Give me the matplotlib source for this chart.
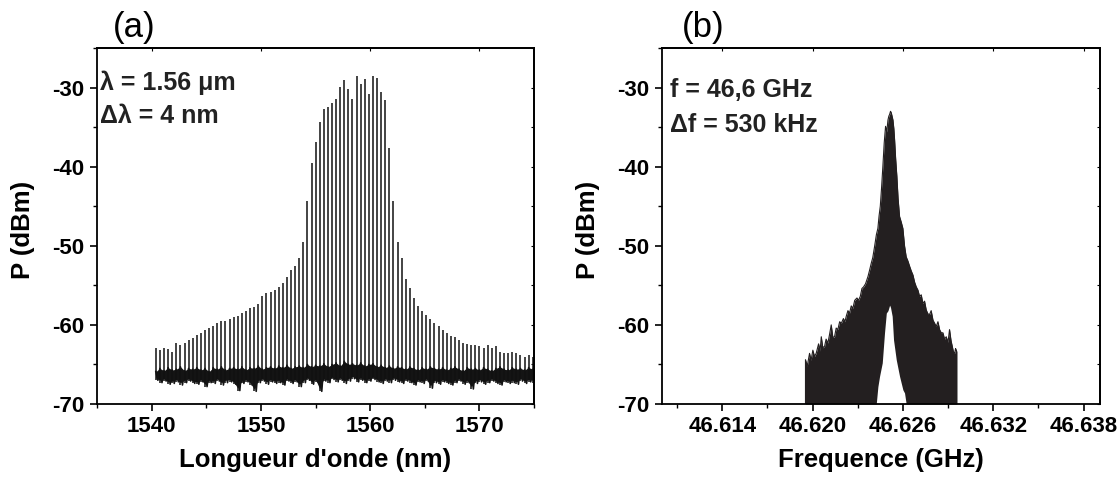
# Two-panel spectrum figure: (a) optical comb, (b) RF beat note
import numpy as np
import matplotlib
matplotlib.use('Agg')
import matplotlib.pyplot as plt
from matplotlib.ticker import MultipleLocator, FormatStrFormatter

plt.rcParams['font.family'] = ['Liberation Sans', 'DejaVu Sans']
plt.rcParams['font.weight'] = 'bold'
plt.rcParams['axes.unicode_minus'] = False

# --- panel (a): optical comb, 93 lines ---
comb_start = 1540.385   # nm, first mode
comb_step = 0.375       # nm, mode spacing

comb_peak = [
    -62.9, -63.2, -62.9, -63.1, -63.4, -62.3, -62.5, -62.3, -61.9, -61.7,
    -61.3, -61.0, -60.6, -60.4, -60.1, -59.8, -59.5, -59.5, -59.3, -59.0,
    -58.9, -58.5, -58.3, -57.9, -57.7, -57.3, -56.4, -56.0, -55.8, -55.6,
    -55.2, -54.7, -53.9, -53.0, -52.6, -51.5, -49.5, -44.3, -39.6, -36.9,
    -34.3, -32.7, -32.4, -31.9, -31.4, -29.9, -29.1, -30.2, -31.4, -28.6,
    -29.5, -28.9, -30.8, -28.6, -28.8, -30.5, -31.6, -37.6, -44.4, -49.5,
    -51.5, -54.2, -55.4, -56.6, -57.6, -58.2, -58.7, -59.2, -59.7, -60.1,
    -60.6, -61.0, -61.4, -61.5, -61.9, -62.3, -62.4, -62.5, -62.6, -62.7,
    -62.9, -62.6, -62.9, -62.7, -63.4, -63.6, -63.5, -63.4, -63.6, -63.8,
    -64.0, -63.8, -64.0,
]
# noise floor: upper value at each mode, lower value between modes
floor_hi = [
    -65.9, -65.5, -65.8, -65.4, -65.7, -65.6, -65.3, -65.8, -65.5, -65.6,
    -65.4, -65.7, -65.5, -65.9, -65.4, -65.6, -65.3, -65.7, -65.5, -65.4,
    -65.6, -65.3, -65.7, -65.4, -65.5, -65.2, -65.6, -65.4, -65.3, -65.5,
    -65.2, -65.4, -65.1, -65.5, -65.3, -65.2, -65.4, -65.0, -65.3, -65.1,
    -65.2, -64.9, -65.3, -65.0, -64.8, -65.2, -64.6, -65.0, -64.9, -65.1,
    -64.8, -65.2, -65.0, -64.9, -65.3, -65.1, -65.4, -65.2, -65.5, -65.3,
    -65.4, -65.6, -65.3, -65.5, -65.7, -65.4, -65.6, -65.3, -65.5, -65.6,
    -65.4, -65.7, -65.5, -65.3, -65.6, -65.8, -65.4, -65.6, -65.5, -65.7,
    -65.4, -65.6, -65.8, -65.5, -65.3, -65.6, -65.7, -65.4, -65.6, -65.5,
    -65.7, -65.4, -65.6,
]
floor_lo = [
    -67.0, -67.3, -67.1, -67.5, -67.4, -67.2, -67.6, -67.3, -67.1, -67.4,
    -67.5, -67.2, -67.8, -67.3, -67.4, -67.1, -67.6, -67.3, -67.2, -67.5,
    -68.3, -67.4, -67.2, -67.6, -68.4, -67.3, -67.1, -67.5, -67.2, -67.4,
    -67.3, -67.6, -67.1, -67.4, -67.2, -67.8, -67.3, -67.0, -67.5, -67.2,
    -68.4, -67.1, -67.3, -66.9, -67.2, -67.0, -67.4, -67.1, -66.8, -67.2,
    -67.0, -67.3, -67.1, -66.9, -67.2, -67.4, -67.1, -67.3, -67.0, -67.2,
    -67.4, -67.1, -67.3, -67.6, -67.2, -67.4, -67.1, -68.0, -67.3, -67.5,
    -67.2, -67.4, -67.6, -67.3, -67.1, -67.5, -67.3, -68.1, -67.4, -67.2,
    -67.5, -67.3, -67.1, -67.4, -67.6, -67.2, -67.4, -67.3, -67.5, -67.1,
    -67.4, -67.2, -67.3,
]

# --- panel (b): RF spectrum envelope (GHz, dBm) ---
rf_freq = [
    46.61953, 46.61953, 46.61965, 46.61980, 46.61990, 46.62002, 46.62013,
    46.62024, 46.62040, 46.62050, 46.62058, 46.62068, 46.62080, 46.62090,
    46.62102, 46.62113, 46.62124, 46.62135, 46.62146, 46.62157, 46.62168,
    46.62180, 46.62191, 46.62205, 46.62215, 46.62224, 46.62235, 46.62246,
    46.62257, 46.62268, 46.62280, 46.62295, 46.62305, 46.62317, 46.62328,
    46.62339, 46.62352, 46.62368, 46.62380, 46.62390, 46.62400, 46.62412,
    46.62424, 46.62434, 46.62442, 46.62450, 46.62458, 46.62467, 46.62476,
    46.62485, 46.62493, 46.62501, 46.62507, 46.62512, 46.62518, 46.62523,
    46.62528, 46.62534, 46.62540, 46.62545, 46.62552, 46.62560, 46.62568,
    46.62578, 46.62589, 46.62600, 46.62611, 46.62622, 46.62633, 46.62645,
    46.62656, 46.62667, 46.62678, 46.62689, 46.62700, 46.62711, 46.62722,
    46.62733, 46.62744, 46.62755, 46.62766, 46.62777, 46.62788, 46.62800,
    46.62811, 46.62822, 46.62833, 46.62844, 46.62855, 46.62866, 46.62877,
    46.62888, 46.62900, 46.62910, 46.62920, 46.62928, 46.62936, 46.62944,
    46.62950, 46.62955, 46.62958, 46.62958,
]
rf_power = [
    -70.0, -64.4, -65.2, -63.6, -64.5, -63.2, -64.0,
    -63.6, -62.4, -63.3, -61.5, -62.9, -62.7, -61.8,
    -62.3, -61.2, -60.0, -61.6, -61.5, -60.4, -60.6,
    -59.6, -59.8, -59.2, -59.6, -58.9, -58.2, -58.5,
    -57.6, -57.9, -56.9, -56.6, -56.9, -56.4, -55.4,
    -55.2, -54.8, -53.9, -53.0, -52.2, -51.5, -50.1,
    -48.6, -47.8, -46.2, -45.0, -42.8, -40.0, -37.0,
    -34.9, -35.6, -34.1, -33.6, -33.4, -33.0, -33.2,
    -33.6, -34.1, -35.2, -36.6, -39.0, -41.2, -44.0,
    -46.3, -47.0, -47.8, -50.0, -51.4, -51.9, -52.6,
    -53.2, -53.7, -54.6, -55.2, -55.6, -56.4, -56.2,
    -57.3, -57.0, -58.1, -58.6, -58.7, -58.2, -59.4,
    -59.8, -60.2, -59.6, -60.6, -61.0, -61.0, -61.8,
    -61.5, -62.2, -60.6, -62.0, -62.7, -63.4, -63.6,
    -63.0, -63.2, -63.4, -70.0,
]
notch_freq = [
    46.62423, 46.62434, 46.62445, 46.62463, 46.62478, 46.62490, 46.62501,
    46.62512, 46.62518, 46.62529, 46.62538, 46.62556, 46.62578, 46.62600,
    46.62611, 46.62622,
]
notch_power = [
    -70.0, -67.8, -66.5, -64.8, -61.0, -58.5, -58.2,
    -57.5, -57.8, -58.9, -61.9, -64.4, -66.5, -68.2,
    -68.6, -70.0,
]

YMIN, YMAX = -70, -25


def style_axis(ax):
    for sp in ax.spines.values():
        sp.set_linewidth(1.3)
    ax.yaxis.set_major_locator(MultipleLocator(10))
    ax.yaxis.set_minor_locator(MultipleLocator(5))
    ax.tick_params(which='major', direction='out', length=5, width=1.2,
                   labelsize=16, pad=4)
    ax.tick_params(which='minor', direction='out', length=3, width=1.0)
    # small inward ticks on top and right
    top = ax.secondary_xaxis('top')
    top.set_xticks(ax.get_xticks())
    top.tick_params(direction='in', length=2, labeltop=False)
    right = ax.secondary_yaxis('right')
    right.yaxis.set_major_locator(MultipleLocator(5))
    right.tick_params(direction='in', length=2, labelright=False)
    for s in (top, right):
        for sp in s.spines.values():
            sp.set_linewidth(1.3)


fig = plt.figure(figsize=(11.2, 4.79), dpi=100)
ax1 = fig.add_axes([0.0866, 0.1566, 0.3902, 0.7432])
ax2 = fig.add_axes([0.5911, 0.1566, 0.3911, 0.7432])

# (a): noise floor as a zigzag trace, modes as vertical lines
wl = comb_start + comb_step * np.arange(len(comb_peak))
trace_x = np.column_stack([wl, wl + comb_step / 2]).ravel()
trace_y = np.column_stack([floor_hi, floor_lo]).ravel()
ax1.fill_between(wl, floor_hi, np.array(floor_lo) + 0.3,
                 color='#141414', lw=0)
ax1.plot(trace_x, trace_y, color='#141414', lw=1.2)
ax1.vlines(wl, floor_lo, comb_peak, color='#111111', lw=1.1)
ax1.set_xlim(1535, 1575)
ax1.set_ylim(YMIN, YMAX)
ax1.set_xticks([1540, 1550, 1560, 1570])
ax1.xaxis.set_minor_locator(MultipleLocator(5))
style_axis(ax1)
ax1.set_xlabel("Longueur d'onde (nm)", fontsize=18.5, fontweight='bold')
ax1.set_ylabel('P (dBm)', fontsize=18.5, fontweight='bold')
ax1.xaxis.set_label_coords(0.5, -0.125)
ax1.yaxis.set_label_coords(-0.142, 0.49)
ax1.text(0.007, 0.882, '\u03bb = 1.56 \u03bcm', transform=ax1.transAxes,
         fontsize=18, fontweight='bold', va='baseline', color='#222222')
ax1.text(0.007, 0.789, '\u0394\u03bb = 4 nm', transform=ax1.transAxes,
         fontsize=18, fontweight='bold', va='baseline', color='#222222')

# (b)
ax2.fill_between(rf_freq, YMIN, rf_power, color='#231f20', lw=0)
ax2.plot(rf_freq, rf_power, color='#231f20', lw=0.8)
ax2.fill_between(notch_freq, YMIN, notch_power, color='white', lw=0)
ax2.set_xlim(46.610, 46.6391)
ax2.set_ylim(YMIN, YMAX)
ax2.set_xticks([46.614, 46.620, 46.626, 46.632, 46.638])
ax2.xaxis.set_minor_locator(MultipleLocator(0.003))
ax2.xaxis.set_major_formatter(FormatStrFormatter('%.3f'))
style_axis(ax2)
ax2.set_xlabel('Frequence (GHz)', fontsize=18.5, fontweight='bold')
ax2.set_ylabel('P (dBm)', fontsize=18.5, fontweight='bold')
ax2.xaxis.set_label_coords(0.5, -0.125)
ax2.yaxis.set_label_coords(-0.1416, 0.49)
ax2.text(0.018, 0.862, 'f = 46,6 GHz', transform=ax2.transAxes,
         fontsize=18, fontweight='bold', va='baseline', color='#222222')
ax2.text(0.018, 0.764, '\u0394f = 530 kHz', transform=ax2.transAxes,
         fontsize=18, fontweight='bold', va='baseline', color='#222222')

fig.text(134 / 1120, 1 - 28 / 479, '(a)', fontsize=25, fontweight='normal',
         ha='center', va='center')
fig.text(703 / 1120, 1 - 28 / 479, '(b)', fontsize=25, fontweight='normal',
         ha='center', va='center')

fig.savefig('out.png', dpi=100)
